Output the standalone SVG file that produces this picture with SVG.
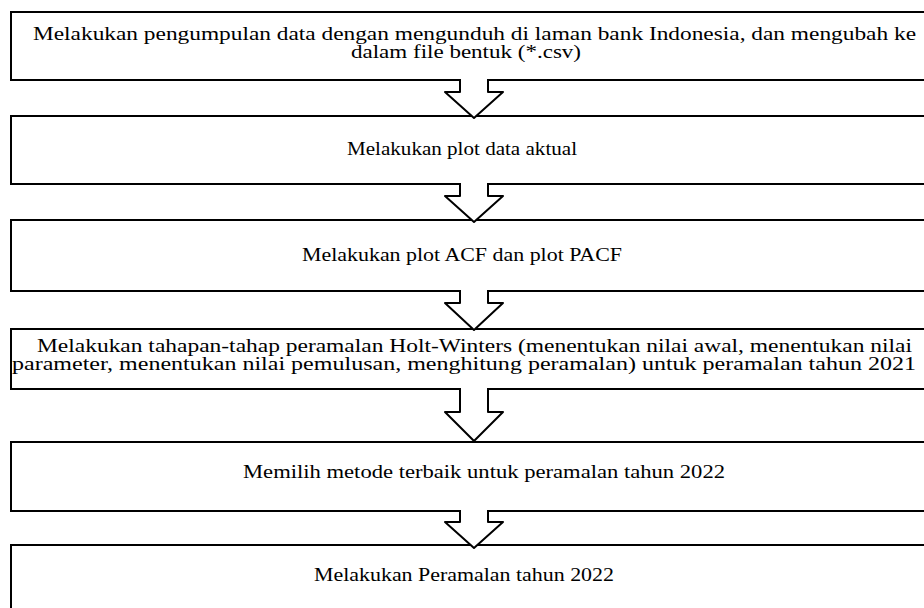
<svg xmlns="http://www.w3.org/2000/svg" width="924" height="608" viewBox="0 0 924 608">
<style>
.box{fill:#fff;stroke:#000;stroke-width:2}
.arr{fill:#fff;stroke:#000;stroke-width:2;stroke-linejoin:round}
text{font-family:"Liberation Serif","Times New Roman",serif;font-size:19px;fill:#000}
</style>
<rect width="924" height="608" fill="#fff"/>
<g id="node1"><rect class="box" x="11" y="12" width="920" height="68"/>
<text x="33" y="40" textLength="883" lengthAdjust="spacingAndGlyphs">Melakukan pengumpulan data dengan mengunduh di laman bank Indonesia, dan mengubah ke</text>
<text x="351" y="58" textLength="230" lengthAdjust="spacingAndGlyphs">dalam file bentuk (*.csv)</text></g>
<g id="node2"><rect class="box" x="11" y="116" width="920" height="68"/>
<text x="347" y="155" textLength="230" lengthAdjust="spacingAndGlyphs">Melakukan plot data aktual</text></g>
<g id="node3"><rect class="box" x="11" y="220" width="920" height="71"/>
<text x="302" y="261" textLength="320" lengthAdjust="spacingAndGlyphs">Melakukan plot ACF dan plot PACF</text></g>
<g id="node4"><rect class="box" x="11" y="329" width="920" height="60"/>
<text x="37" y="352" textLength="875" lengthAdjust="spacingAndGlyphs">Melakukan tahapan-tahap peramalan Holt-Winters (menentukan nilai awal, menentukan nilai</text>
<text x="12" y="370" textLength="904" lengthAdjust="spacingAndGlyphs">parameter, menentukan nilai pemulusan, menghitung peramalan) untuk peramalan tahun 2021</text></g>
<g id="node5"><rect class="box" x="11" y="442" width="920" height="69"/>
<text x="243" y="478" textLength="482" lengthAdjust="spacingAndGlyphs">Memilih metode terbaik untuk peramalan tahun 2022</text></g>
<g id="node6"><rect class="box" x="11" y="545" width="920" height="70"/>
<text x="314" y="581" textLength="300" lengthAdjust="spacingAndGlyphs">Melakukan Peramalan tahun 2022</text></g>
<g id="connectors">
<path class="arr" d="M460,79 V92 H445 L474,118 L503,92 H488 V79"/>
<path class="arr" d="M460,183 V196 H445 L474,222 L503,196 H488 V183"/>
<path class="arr" d="M460,290 V303 H445 L474,330 L503,303 H488 V290"/>
<path class="arr" d="M460,388 V412 H445 L474,441 L503,412 H488 V388"/>
<path class="arr" d="M460,510 V522 H445 L474,548 L503,522 H488 V510"/>
</g>
</svg>
